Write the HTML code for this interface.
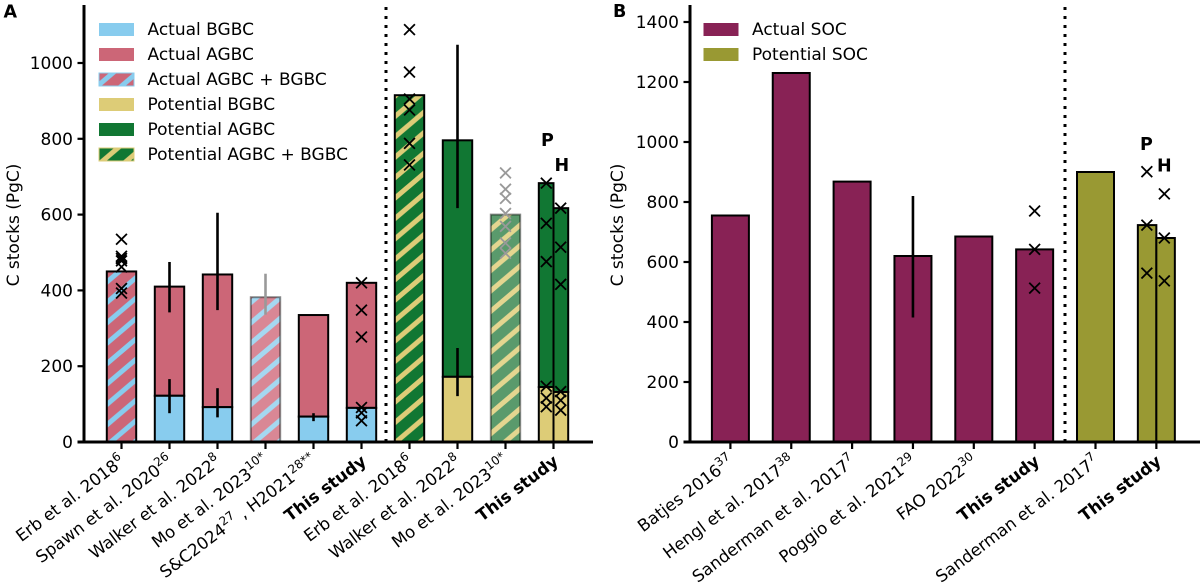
<!DOCTYPE html>
<html>
<head>
<meta charset="utf-8">
<style>
html,body{margin:0;padding:0;background:#fff;}
svg{display:block;}
text{font-family:"DejaVu Sans","Liberation Sans",sans-serif;fill:#000;}
.tick{font-size:17px;}
.leg{font-size:17px;}
.bold{font-weight:bold;}
</style>
</head>
<body>
<svg id="chart" xmlns="http://www.w3.org/2000/svg" width="1200" height="587" viewBox="0 0 1200 587">
  <defs>
    <pattern id="hatch-actual" patternUnits="userSpaceOnUse" width="24" height="20.4" patternTransform="translate(0,5.7)">
      <rect width="24" height="20.4" fill="#CC6677"/>
      <path d="M-10 28.9L34 -8.5M-10 8.5L10 -8.5M14 28.9L34 11.9" stroke="#88CCEE" stroke-width="5" fill="none"/>
    </pattern>
    <pattern id="hatch-potential" patternUnits="userSpaceOnUse" width="24" height="20.4" patternTransform="translate(0,3.4)">
      <rect width="24" height="20.4" fill="#117733"/>
      <path d="M-10 28.9L34 -8.5M-10 8.5L10 -8.5M14 28.9L34 11.9" stroke="#DDCC77" stroke-width="5" fill="none"/>
    </pattern>
    <pattern id="hatch-potential-faint" patternUnits="userSpaceOnUse" width="24" height="20.4" patternTransform="translate(0,14.4)">
      <rect width="24" height="20.4" fill="#5A9A6C"/>
      <path d="M-10 28.9L34 -8.5M-10 8.5L10 -8.5M14 28.9L34 11.9" stroke="#E4D690" stroke-width="5" fill="none"/>
    </pattern>
    <pattern id="hatch-actual-faint" patternUnits="userSpaceOnUse" width="24" height="20.4" patternTransform="translate(0,5.7)">
      <rect width="24" height="20.4" fill="#D98795"/>
      <path d="M-10 28.9L34 -8.5M-10 8.5L10 -8.5M14 28.9L34 11.9" stroke="#A5D8F1" stroke-width="5" fill="none"/>
    </pattern>
  </defs>

  <text x="3.5" y="17.5" font-size="17.5" class="bold">A</text>
  <text x="613" y="17" font-size="17.5" class="bold">B</text>
  <text class="tick" transform="translate(19,225) rotate(-90)" text-anchor="middle">C stocks (PgC)</text>
  <text class="tick" transform="translate(623,225) rotate(-90)" text-anchor="middle">C stocks (PgC)</text>

  <g id="layer-a"></g>
  <g id="layer-b"></g>

  <g>
    <g><rect x="99" y="23" width="35" height="13" fill="#88CCEE"/><text class="leg" x="147.5" y="35">Actual BGBC</text></g>
    <g><rect x="99" y="48" width="35" height="13" fill="#CC6677"/><text class="leg" x="147.5" y="60">Actual AGBC</text></g>
    <g><rect x="99" y="73" width="35" height="13" fill="url(#hatch-actual)" stroke="#88CCEE" stroke-width="1"/><text class="leg" x="147.5" y="85">Actual AGBC + BGBC</text></g>
    <g><rect x="99" y="98" width="35" height="13" fill="#DDCC77"/><text class="leg" x="147.5" y="110">Potential BGBC</text></g>
    <g><rect x="99" y="123" width="35" height="13" fill="#117733"/><text class="leg" x="147.5" y="135">Potential AGBC</text></g>
    <g><rect x="99" y="148" width="35" height="13" fill="url(#hatch-potential)" stroke="#DDCC77" stroke-width="1"/><text class="leg" x="147.5" y="160">Potential AGBC + BGBC</text></g>
  </g>
  <g>
    <g><rect x="703.5" y="23" width="35" height="13" fill="#882255"/><text class="leg" x="752" y="35">Actual SOC</text></g>
    <g><rect x="703.5" y="48" width="35" height="13" fill="#999933"/><text class="leg" x="752" y="60">Potential SOC</text></g>
  </g>

  <text x="541" y="146" font-size="17.5" class="bold">P</text>
  <text x="554.5" y="171" font-size="17.5" class="bold">H</text>
  <text x="1140" y="150" font-size="17.5" class="bold">P</text>
  <text x="1157" y="171.5" font-size="17.5" class="bold">H</text>
</svg>

<script>
// Panel A data
const categoriesA = ['Erb et al. 2018^6','Spawn et al. 2020^26','Walker et al. 2022^8','Mo et al. 2023^10*','S&C2024^27^ , H2021^28**','!This study','Erb et al. 2018^6','Walker et al. 2022^8','Mo et al. 2023^10*','!This study'];
const ticksA = [0,200,400,600,800,1000];
const actualBgbcA = [null,122,92,null,67,90,null,null,null,null];
const actualTotalA = [null,410,442,null,335,420,null,null,null,null];
const actualCombinedA = [450,null,null,382,null,null,null,null,null,null];
const potentialBgbcA = [null,null,null,null,null,null,null,172,null,null];
const potentialTotalA = [null,null,null,null,null,null,null,796,null,null];
const potentialCombinedA = [null,null,null,null,null,null,915,null,600,null];
const studyPotentialBgbcA = [145,132];
const studyPotentialTotalA = [683,617];
const faintA = [3,8];
const totalErrLowA = [null,342,348,336,null,null,null,617,null,null];
const totalErrHighA = [null,475,605,444,null,null,null,1048,null,null];
const bgbcErrLowA = [null,76,65,null,55,null,null,121,null,null];
const bgbcErrHighA = [null,166,142,null,76,null,null,248,null,null];
const crossesA = [
  [535,490,484,478,462,405,393],[],[],[],[],
  [420,348,277,91,77,56],
  [1088,976,905,876,788,731],[],
  [710,667,643,603,569,525,498],[]
];
const studyCrossesPA = [683,577,476,147,116,93];
const studyCrossesHA = [617,514,416,133,110,84];

// Panel B data
const categoriesB = ['Batjes 2016^37','Hengl et al. 2017^38','Sanderman et al. 2017^7','Poggio et al. 2021^29','FAO 2022^30','!This study','Sanderman et al. 2017^7','!This study'];
const ticksB = [0,200,400,600,800,1000,1200,1400];
const actualSocB = [755,1230,868,620,685,642,null,null];
const potentialSocB = [null,null,null,null,null,null,900,null];
const studyPotentialSocB = [723,680];
const socErrLowB = [null,null,null,415,null,null,null,null];
const socErrHighB = [null,null,null,820,null,null,null,null];
const crossesB = [[],[],[],[],[],[770,642,513],[],[]];
const studyCrossesPB = [901,723,563];
const studyCrossesHB = [827,680,537];

const NS = 'http://www.w3.org/2000/svg';
const yA = v => 442 - v * 0.379;
const yB = v => 442 - v * 0.3;
const xA = i => 121.5 + 48 * i;
const xB = i => 730.4 + 60.85 * i;

function mk(tag, attrs, parent) {
  const n = document.createElementNS(NS, tag);
  for (const k in attrs) n.setAttribute(k, attrs[k]);
  parent.appendChild(n);
  return n;
}

function drawBar(parent, x0, x1, y0, y1, fill, stroke, strokeOpacity, fillOpacity, name) {
  const r = mk('rect', {x: x0, y: y1, width: x1 - x0, height: y0 - y1, fill: fill, stroke: stroke, 'stroke-width': 2, 'stroke-opacity': strokeOpacity, 'fill-opacity': fillOpacity}, parent);
  
  
}

function drawErr(parent, x, y0, y1, color, name) {
  const l = mk('line', {x1: x, x2: x, y1: y0, y2: y1, stroke: color, 'stroke-width': 2.6}, parent);
  
  
}

function drawCross(parent, x, y, color, name) {
  const s = 5.4;
  const p = mk('path', {d: `M${x - s} ${y - s}L${x + s} ${y + s}M${x - s} ${y + s}L${x + s} ${y - s}`, stroke: color, 'stroke-width': 1.8, fill: 'none'}, parent);
  
  
}

function drawXLabel(parent, x, label, name) {
  const bold = label[0] === '!';
  const raw = bold ? label.slice(1) : label;
  const t = mk('text', {transform: `translate(${x + (bold ? 6 : 4.5)},463.5) rotate(-37)`, 'text-anchor': 'end', 'font-size': 16.7}, parent);
  
  
  if (bold) t.setAttribute('font-weight', 'bold');
  raw.split('^').forEach((part, idx) => {
    const sp = mk('tspan', {}, t);
    sp.textContent = part;
    if (idx % 2 === 1) {
      sp.setAttribute('font-size', '12');
      sp.setAttribute('dy', '-7');
    } else if (idx > 0) {
      sp.setAttribute('dy', '7');
    }
  });
}

function drawAxes(parent, axisX, axisEnd, ticks, yFn, xFn, cats, prefix) {
  ticks.forEach(v => {
    const tk = mk('line', {x1: axisX - 6.5, x2: axisX, y1: yFn(v), y2: yFn(v), stroke: '#000', 'stroke-width': 2.2}, parent);
    
    
    const lb = mk('text', {x: axisX - 11, y: yFn(v) + 6, 'text-anchor': 'end', 'font-size': 17}, parent);
    lb.textContent = v;
    
    
  });
  cats.forEach((c, i) => {
    const tk = mk('line', {x1: xFn(i), x2: xFn(i), y1: 442, y2: 449, stroke: '#000', 'stroke-width': 2.2}, parent);
    
    
    drawXLabel(parent, xFn(i), c, prefix + '-x-label-' + i);
  });
  const ya = mk('line', {x1: axisX, x2: axisX, y1: 5, y2: 443.5, stroke: '#000', 'stroke-width': 3}, parent);
  
  
  const xa = mk('line', {x1: axisX - 6.5, x2: axisEnd, y1: 442, y2: 442, stroke: '#000', 'stroke-width': 3}, parent);
  
  
}

function drawDivider(parent, x, name) {
  const d = mk('line', {x1: x, x2: x, y1: 7, y2: 442, stroke: '#000', 'stroke-width': 3, 'stroke-dasharray': '3 6'}, parent);
  
  
}

/* Panel A */
const gA = document.getElementById('layer-a');
const hwA = 14.7;
categoriesA.forEach((c, i) => {
  const x = xA(i);
  const faint = faintA.includes(i);
  const so = faint ? 0.45 : 1;
  if (actualTotalA[i] !== null) drawBar(gA, x - hwA, x + hwA, yA(actualBgbcA[i]), yA(actualTotalA[i]), '#CC6677', '#000', so, 1, 'bar-actual-agbc-' + i);
  if (actualBgbcA[i] !== null) drawBar(gA, x - hwA, x + hwA, yA(0), yA(actualBgbcA[i]), '#88CCEE', '#000', so, 1, 'bar-actual-bgbc-' + i);
  if (actualCombinedA[i] !== null) drawBar(gA, x - hwA, x + hwA, yA(0), yA(actualCombinedA[i]), faint ? 'url(#hatch-actual-faint)' : 'url(#hatch-actual)', '#000', so, 1, 'bar-actual-combined-' + i);
  if (potentialTotalA[i] !== null) drawBar(gA, x - hwA, x + hwA, yA(potentialBgbcA[i]), yA(potentialTotalA[i]), '#117733', '#000', so, 1, 'bar-potential-agbc-' + i);
  if (potentialBgbcA[i] !== null) drawBar(gA, x - hwA, x + hwA, yA(0), yA(potentialBgbcA[i]), '#DDCC77', '#000', so, 1, 'bar-potential-bgbc-' + i);
  if (potentialCombinedA[i] !== null) drawBar(gA, x - hwA, x + hwA, yA(0), yA(potentialCombinedA[i]), faint ? 'url(#hatch-potential-faint)' : 'url(#hatch-potential)', '#000', so, 1, 'bar-potential-combined-' + i);
});
studyPotentialTotalA.forEach((v, k) => {
  const x0 = xA(9) + (k === 0 ? -hwA : 0);
  const x1 = x0 + hwA;
  drawBar(gA, x0, x1, yA(studyPotentialBgbcA[k]), yA(v), '#117733', '#000', 1, 1, 'bar-study-potential-agbc-' + k);
  drawBar(gA, x0, x1, yA(0), yA(studyPotentialBgbcA[k]), '#DDCC77', '#000', 1, 1, 'bar-study-potential-bgbc-' + k);
});
categoriesA.forEach((c, i) => {
  const col = faintA.includes(i) ? '#999' : '#000';
  if (totalErrLowA[i] !== null) drawErr(gA, xA(i), yA(totalErrLowA[i]), yA(totalErrHighA[i]), col, 'error-bar-total-' + i);
  if (bgbcErrLowA[i] !== null) drawErr(gA, xA(i), yA(bgbcErrLowA[i]), yA(bgbcErrHighA[i]), col, 'error-bar-bgbc-' + i);
  crossesA[i].forEach((v, j) => drawCross(gA, xA(i), yA(v), col, 'estimate-marker-' + i + '-' + j));
});
studyCrossesPA.forEach((v, j) => drawCross(gA, xA(9) - 7.2, yA(v), '#000', 'study-marker-p-' + j));
studyCrossesHA.forEach((v, j) => drawCross(gA, xA(9) + 7.2, yA(v), '#000', 'study-marker-h-' + j));
drawDivider(gA, 386, 'divider-panel-a');
drawAxes(gA, 84, 593, ticksA, yA, xA, categoriesA, 'panel-a');

/* Panel B */
const gB = document.getElementById('layer-b');
const hwB = 18.5;
categoriesB.forEach((c, i) => {
  const x = xB(i);
  if (actualSocB[i] !== null) drawBar(gB, x - hwB, x + hwB, yB(0), yB(actualSocB[i]), '#882255', '#000', 1, 1, 'bar-actual-soc-' + i);
  if (potentialSocB[i] !== null) drawBar(gB, x - hwB, x + hwB, yB(0), yB(potentialSocB[i]), '#999933', '#000', 1, 1, 'bar-potential-soc-' + i);
});
studyPotentialSocB.forEach((v, k) => {
  const x0 = xB(7) + (k === 0 ? -hwB : 0);
  drawBar(gB, x0, x0 + hwB, yB(0), yB(v), '#999933', '#000', 1, 1, 'bar-study-potential-soc-' + k);
});
categoriesB.forEach((c, i) => {
  if (socErrLowB[i] !== null) drawErr(gB, xB(i), yB(socErrLowB[i]), yB(socErrHighB[i]), '#000', 'error-bar-soc-' + i);
  crossesB[i].forEach((v, j) => drawCross(gB, xB(i), yB(v), '#000', 'soc-marker-' + i + '-' + j));
});
studyCrossesPB.forEach((v, j) => drawCross(gB, xB(7) - 9.5, yB(v), '#000', 'soc-study-marker-p-' + j));
studyCrossesHB.forEach((v, j) => drawCross(gB, xB(7) + 8, yB(v), '#000', 'soc-study-marker-h-' + j));
drawDivider(gB, 1065, 'divider-panel-b');
drawAxes(gB, 690, 1200, ticksB, yB, xB, categoriesB, 'panel-b');
</script>
</body>
</html>
